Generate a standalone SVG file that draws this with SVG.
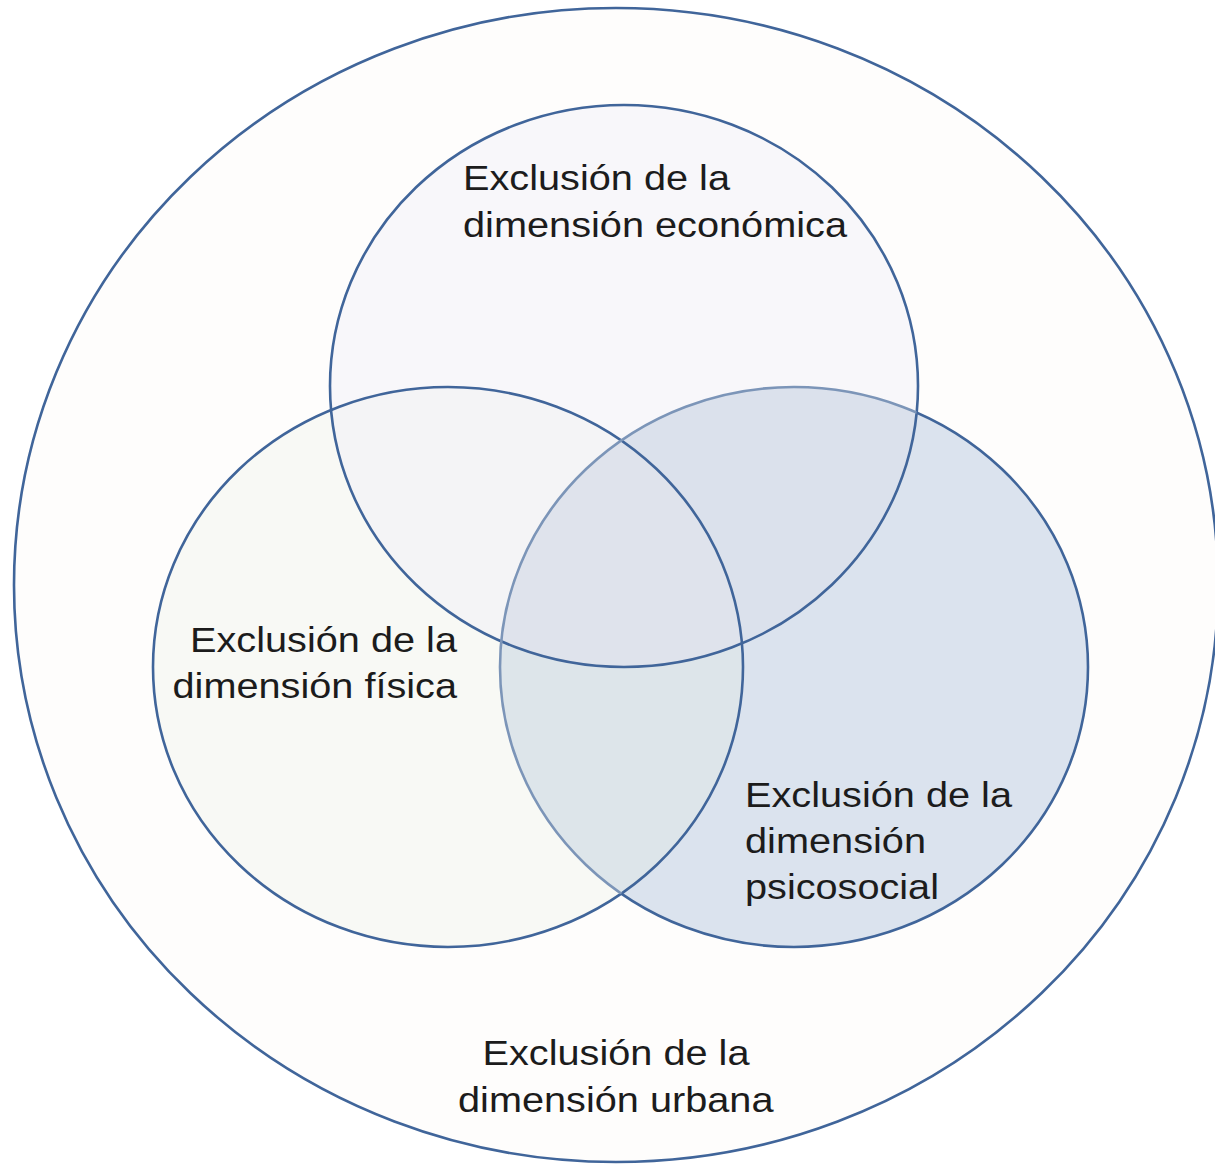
<svg xmlns="http://www.w3.org/2000/svg" xmlns:xlink="http://www.w3.org/1999/xlink" width="1215" height="1164" viewBox="0 0 1215 1164">
<style>
.lbl{font-family:"Liberation Sans",Arial,sans-serif;font-size:35px;fill:#1c1c1c}
.ol{fill:none;stroke:#40659a;stroke-width:2.6}
</style>
<defs>
<ellipse id="eO" cx="616" cy="585" rx="602" ry="577"/>
<ellipse id="eT" cx="624" cy="386" rx="294" ry="281"/>
<ellipse id="eL" cx="448" cy="667" rx="295" ry="280"/>
<ellipse id="eR" cx="794" cy="667" rx="294" ry="280"/>
<clipPath id="cT"><use xlink:href="#eT"/></clipPath>
<clipPath id="cL"><use xlink:href="#eL"/></clipPath>
<clipPath id="cR"><use xlink:href="#eR"/></clipPath>
<clipPath id="cTL"><use xlink:href="#eT"/><use xlink:href="#eL"/></clipPath>
<mask id="mNotTL"><rect width="1215" height="1164" fill="#fff"/><use xlink:href="#eT" fill="#000"/><use xlink:href="#eL" fill="#000"/></mask>
</defs>
<rect width="1215" height="1164" fill="#ffffff"/>

<g id="urbana">
<use xlink:href="#eO" fill="#fefdfc"/>
<text class="lbl" x="482.5" y="1065" textLength="267" lengthAdjust="spacingAndGlyphs">Exclusión de la</text>
<text class="lbl" x="458" y="1112" textLength="315.5" lengthAdjust="spacingAndGlyphs">dimensión urbana</text>
</g>

<g id="economica">
<use xlink:href="#eT" fill="#f8f7fa"/>
<text class="lbl" x="463" y="190" textLength="267" lengthAdjust="spacingAndGlyphs">Exclusión de la</text>
<text class="lbl" x="463" y="237" textLength="384" lengthAdjust="spacingAndGlyphs">dimensión económica</text>
</g>

<g id="fisica">
<use xlink:href="#eL" fill="#f8f9f5"/>
<text class="lbl" x="190" y="652" textLength="267" lengthAdjust="spacingAndGlyphs">Exclusión de la</text>
<text class="lbl" x="172.5" y="698" textLength="284.5" lengthAdjust="spacingAndGlyphs">dimensión física</text>
</g>

<g id="psicosocial">
<use xlink:href="#eR" fill="#dbe3ee"/>
<text class="lbl" x="745" y="807" textLength="267" lengthAdjust="spacingAndGlyphs">Exclusión de la</text>
<text class="lbl" x="745" y="853" textLength="181" lengthAdjust="spacingAndGlyphs">dimensión</text>
<text class="lbl" x="745" y="899" textLength="194" lengthAdjust="spacingAndGlyphs">psicosocial</text>
</g>

<g id="overlaps">
<g clip-path="url(#cT)"><use xlink:href="#eL" fill="#f4f4f6"/></g>
<g clip-path="url(#cT)"><use xlink:href="#eR" fill="#dbe1ec"/></g>
<g clip-path="url(#cL)"><use xlink:href="#eR" fill="#dde5ea"/></g>
<g clip-path="url(#cL)"><g clip-path="url(#cT)"><use xlink:href="#eR" fill="#dfe3ec"/></g></g>
</g>

<g id="connectors">
<use xlink:href="#eO" class="ol"/>
<use xlink:href="#eT" class="ol"/>
<use xlink:href="#eL" class="ol"/>
<use xlink:href="#eR" class="ol" mask="url(#mNotTL)"/>
<g clip-path="url(#cTL)"><use xlink:href="#eR" fill="none" stroke="#7c95b8" stroke-width="2.6"/></g>
</g>
</svg>
